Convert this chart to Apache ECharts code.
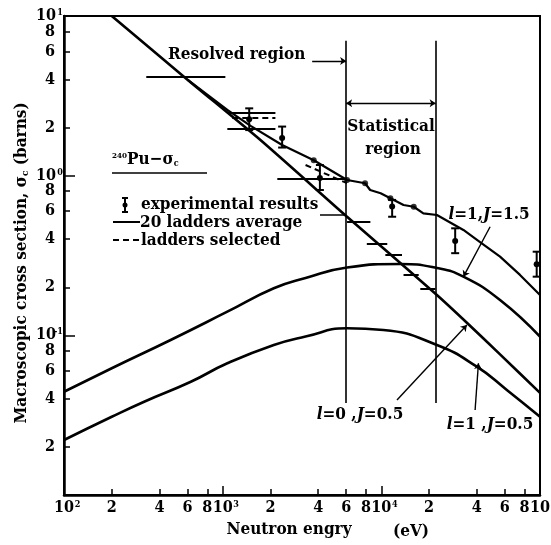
<!DOCTYPE html>
<html>
<head>
<meta charset="utf-8">
<script src="https://cdn.jsdelivr.net/npm/echarts@6/dist/echarts.min.js"></script>
<style>
  html, body { margin: 0; padding: 0; background: #fff; }
  #chart { width: 551px; height: 545px; }
</style>
</head>
<body>
<div id="chart"></div>
<script>
// 240Pu capture cross section vs neutron energy (eV, barns)

// l = 0, J = 0.5 component
const l0E = [200, 600, 1730, 6080, 22400, 34600, 56000, 100000];
const l0Sigma = [10, 3.99, 1.67, 0.553, 0.179, 0.12, 0.076, 0.0436];

// l = 1, J = 1.5 component
const p15E = [100, 200, 470, 1070, 2100, 3330, 6080, 13200, 22400, 32900, 56000, 100000];
const p15Sigma = [0.0443, 0.0622, 0.0935, 0.1406, 0.197, 0.2286, 0.266, 0.28, 0.264, 0.233, 0.1664, 0.098];

// l = 1, J = 0.5 component
const p05E = [100, 200, 320, 630, 1070, 2100, 3330, 6080, 10300, 22400, 40000, 61800, 100000];
const p05Sigma = [0.0221, 0.0309, 0.0384, 0.0512, 0.0668, 0.087, 0.0983, 0.1107, 0.108, 0.087, 0.0636, 0.0455, 0.0309];

// 20 ladders average (total)
const avgE = [600, 1070, 1500, 2370, 3750, 6080, 7900, 8500, 9900, 11400, 13800, 16000, 18400, 22400, 32900, 41900, 56000, 74800, 100000];
const avgSigma = [3.99, 2.58, 2.05, 1.556, 1.25, 0.94, 0.896, 0.813, 0.776, 0.722, 0.655, 0.639, 0.581, 0.567, 0.457, 0.384, 0.311, 0.239, 0.179];
const dotE = [3750, 6080, 7900, 11400, 16000];
const dotSigma = [1.25, 0.94, 0.896, 0.722, 0.639];

// group averages over energy bins
const barFrom = [330, 1070, 1070, 2210, 6080, 8100, 10600, 13800, 17600];
const barTo = [1040, 2150, 2150, 6080, 8530, 10900, 13500, 17200, 21900];
const barSigma = [4.17, 2.46, 1.96, 0.963, 0.515, 0.377, 0.318, 0.239, 0.197];

// ladders selected (dashed)
const selFrom = [1150, 3330];
const selTo = [2150, 6080];
const selFromSigma = [2.29, 1.166];
const selToSigma = [2.29, 0.897];

// experimental results with error bars
const expE = [1470, 2370, 4100, 11700, 29200, 95300];
const expSigma = [2.26, 1.72, 0.967, 0.64, 0.39, 0.279];
const expLow = [1.93, 1.5, 0.813, 0.553, 0.327, 0.233];
const expHigh = [2.64, 2.03, 1.166, 0.705, 0.468, 0.334];

// resolved / statistical region boundaries
const regionE = [6000, 22000];
const regionTop = 7.0;
const regionBottom = 0.0377;

// axis ticks (the top decade label sits on a second axis so it never hides its neighbour)
const xTickValues = [100, 200, 400, 600, 800, 1000, 2000, 4000, 6000, 8000, 10000, 20000, 40000, 60000, 80000, 100000];
const xTickLabels = ['10^2', '2', '4', '6', '8', '10^3', '2', '4', '6', '8', '10^4', '2', '4', '6', '8', '10^5'];
const yTickValues = [0.02, 0.04, 0.06, 0.08, 0.1, 0.2, 0.4, 0.6, 0.8, 1, 2, 4, 6, 8, 10];
const yTickLabels = ['2', '4', '6', '8', '10^-1', '2', '4', '6', '8', '10^0', '2', '4', '6', '8', '10^1'];
const xMajorTicks = [1000, 10000];
const yMajorTicks = [0.1, 1];

const FONT_FAMILY = "'DejaVu Serif Condensed', 'DejaVu Serif', 'Liberation Serif', serif";
const FS = 17;
const FONT = 'bold ' + FS + 'px ' + FONT_FAMILY;
const INK = '#000';

function nearestIndex(values, v) {
  let best = 0, bestD = Infinity;
  values.forEach((t, i) => {
    const d = Math.abs(Math.log10(t) - Math.log10(v));
    if (d < bestD) { bestD = d; best = i; }
  });
  return best;
}

function xLabel(v) {
  const t = xTickLabels[nearestIndex(xTickValues, v)];
  if (t.indexOf('^') >= 0) {
    return '{sp| }{n|10}{e|' + t.split('^')[1] + '}';
  }
  return '{d|' + t + '}';
}

function yLabel(v) {
  const t = yTickLabels[nearestIndex(yTickValues, v)];
  if (t.indexOf('^') >= 0) {
    return '{n|10}{e|' + t.split('^')[1] + '}';
  }
  return '{d|' + t + '}{sp| }';
}

const labelRich = {
  n: { fontFamily: FONT_FAMILY, fontWeight: 'bold', fontSize: 16, color: INK },
  d: { fontFamily: FONT_FAMILY, fontWeight: 'bold', fontSize: 16, color: INK },
  e: { fontFamily: FONT_FAMILY, fontWeight: 'bold', fontSize: 9, color: INK, verticalAlign: 'top', width: 7 },
  sp: { fontSize: 9, width: 7 }
};
const yLabelRich = Object.assign({}, labelRich, { sp: { fontSize: 9, width: 8 } });

const zip = (a, b) => a.map((v, i) => [v, b[i]]);
const blackLine = (w) => ({ color: INK, width: w, opacity: 1 });
const italicRich = {
  i: { fontFamily: FONT_FAMILY, fontStyle: 'italic', fontWeight: 'bold', fontSize: FS, fill: INK },
  t: { fontFamily: FONT_FAMILY, fontWeight: 'bold', fontSize: FS, fill: INK }
};

const chart = echarts.init(document.getElementById('chart'), null, { renderer: 'canvas' });

const xMin = xTickValues[0], xMax = xTickValues[xTickValues.length - 1];
const yMin = 0.01, yMax = yTickValues[yTickValues.length - 1];

const option = {
  backgroundColor: '#fff',
  animation: false,
  grid: {
    left: 64, right: 11, top: 16, bottom: 50,
    containLabel: false, outerBoundsMode: 'none',
    show: true, borderColor: INK, borderWidth: 2, backgroundColor: 'transparent'
  },
  xAxis: [
    {
      type: 'log', logBase: 10, min: xMin, max: xMax,
      axisLine: { show: true, lineStyle: { color: INK, width: 2.5 } },
      axisTick: { show: true, inside: true, length: 6, customValues: xTickValues, lineStyle: { color: INK, width: 1.5 } },
      axisLabel: {
        show: true, customValues: xTickValues.slice(0, -1), formatter: xLabel, rich: labelRich, margin: 5,
        hideOverlap: false
      },
      splitLine: { show: false },
      minorTick: { show: false }
    },
    {
      type: 'log', logBase: 10, min: xMin, max: xMax, position: 'bottom',
      axisLine: { show: false },
      axisTick: { show: true, inside: true, length: 9, customValues: xMajorTicks, lineStyle: { color: INK, width: 1.5 } },
      axisLabel: { show: true, customValues: [xMax], formatter: xLabel, rich: labelRich, margin: 5, showMaxLabel: true },
      splitLine: { show: false }
    }
  ],
  yAxis: [
    {
      type: 'log', logBase: 10, min: yMin, max: yMax,
      axisLine: { show: true, lineStyle: { color: INK, width: 2.5 } },
      axisTick: { show: true, inside: true, length: 6, customValues: yTickValues, lineStyle: { color: INK, width: 1.5 } },
      axisLabel: {
        show: true, customValues: yTickValues.slice(0, -1), formatter: yLabel, rich: yLabelRich, margin: 1,
        hideOverlap: false
      },
      splitLine: { show: false },
      minorTick: { show: false }
    },
    {
      type: 'log', logBase: 10, min: yMin, max: yMax, position: 'left',
      axisLine: { show: false },
      axisTick: { show: true, inside: true, length: 11, customValues: yMajorTicks, lineStyle: { color: INK, width: 1.5 } },
      axisLabel: { show: true, customValues: [yMax], formatter: yLabel, rich: yLabelRich, margin: 1, showMaxLabel: true },
      splitLine: { show: false }
    }
  ],
  series: [
    {
      name: 'l=0, J=0.5', type: 'line', data: zip(l0E, l0Sigma),
      smooth: 0.2, showSymbol: false, symbol: 'none', lineStyle: blackLine(2.6)
    },
    {
      name: 'l=1, J=1.5', type: 'line', data: zip(p15E, p15Sigma),
      smooth: true, showSymbol: false, symbol: 'none', lineStyle: blackLine(2.6)
    },
    {
      name: 'l=1, J=0.5', type: 'line', data: zip(p05E, p05Sigma),
      smooth: true, showSymbol: false, symbol: 'none', lineStyle: blackLine(2.6)
    },
    {
      name: '20 ladders average', type: 'line', data: zip(avgE, avgSigma),
      smooth: false, showSymbol: false, symbol: 'none', lineStyle: blackLine(2.2)
    },
    {
      name: 'ladder points', type: 'scatter', data: zip(dotE, dotSigma),
      symbol: 'circle', symbolSize: 6, itemStyle: { color: INK }
    },
    {
      name: 'group averages', type: 'lines', coordinateSystem: 'cartesian2d',
      data: barFrom.map((f, i) => ({ coords: [[f, barSigma[i]], [barTo[i], barSigma[i]]] })),
      lineStyle: blackLine(2), symbol: 'none'
    },
    {
      name: 'ladders selected', type: 'lines', coordinateSystem: 'cartesian2d',
      data: selFrom.map((f, i) => ({ coords: [[f, selFromSigma[i]], [selTo[i], selToSigma[i]]] })),
      lineStyle: { color: INK, width: 2, opacity: 1, type: [6, 4] }, symbol: 'none'
    },
    {
      name: 'region bounds', type: 'lines', coordinateSystem: 'cartesian2d',
      data: regionE.map(e => ({ coords: [[e, regionTop], [e, regionBottom]] })),
      lineStyle: blackLine(1.6), symbol: 'none'
    },
    {
      name: 'region arrows', type: 'lines', coordinateSystem: 'cartesian2d',
      data: [
        { coords: [[3665, 5.22], [regionE[0], 5.22]], symbol: ['none', 'arrow'] },
        { coords: [[regionE[0], 2.84], [regionE[1], 2.84]], symbol: ['arrow', 'arrow'] }
      ],
      lineStyle: blackLine(1.4), symbolSize: 6
    },
    {
      name: 'leaders', type: 'lines', coordinateSystem: 'cartesian2d',
      data: [
        { coords: [[48480, 0.479], [32930, 0.233]] },
        { coords: [[12550, 0.0394], [34600, 0.116]] },
        { coords: [[38990, 0.0341], [40930, 0.0668]] }
      ],
      symbol: ['none', 'arrow'], symbolSize: 6,
      lineStyle: blackLine(1.4)
    },
    {
      name: 'experimental results', type: 'custom',
      data: expE.map((e, i) => [e, expLow[i], expHigh[i], expSigma[i]]),
      encode: { x: 0, y: [1, 2] },
      renderItem: function (params, api) {
        const e = api.value(0);
        const lo = api.coord([e, api.value(1)]);
        const hi = api.coord([e, api.value(2)]);
        const mid = api.coord([e, api.value(3)]);
        const w = 4;
        const st = { stroke: INK, lineWidth: 2 };
        return {
          type: 'group',
          children: [
            { type: 'line', shape: { x1: lo[0], y1: lo[1], x2: hi[0], y2: hi[1] }, style: st },
            { type: 'line', shape: { x1: lo[0] - w, y1: lo[1], x2: lo[0] + w, y2: lo[1] }, style: st },
            { type: 'line', shape: { x1: hi[0] - w, y1: hi[1], x2: hi[0] + w, y2: hi[1] }, style: st },
            { type: 'circle', shape: { cx: mid[0], cy: mid[1], r: 3 }, style: { fill: INK } }
          ]
        };
      }
    }
  ],
  graphic: [
    // axis titles
    {
      type: 'text', x: 22, y: 263, rotation: Math.PI / 2,
      style: {
        text: '{t|Macroscopic cross section, σ}{s|c}{t| (barns)}',
        align: 'center', verticalAlign: 'middle',
        rich: {
          t: { fontFamily: FONT_FAMILY, fontWeight: 'bold', fontSize: FS, fill: INK },
          s: { fontFamily: FONT_FAMILY, fontWeight: 'bold', fontSize: 10, fill: INK, verticalAlign: 'bottom' }
        }
      }
    },
    { type: 'text', x: 289, y: 530, style: { text: 'Neutron engry', font: FONT, fill: INK, align: 'center', verticalAlign: 'middle' } },
    { type: 'text', x: 411, y: 532, style: { text: '(eV)', font: FONT, fill: INK, align: 'center', verticalAlign: 'middle' } },
    // region labels
    { type: 'text', x: 168, y: 55, style: { text: 'Resolved region', font: FONT, fill: INK, align: 'left', verticalAlign: 'middle' } },
    { type: 'text', x: 391, y: 127, style: { text: 'Statistical', font: FONT, fill: INK, align: 'center', verticalAlign: 'middle' } },
    { type: 'text', x: 393, y: 150, style: { text: 'region', font: FONT, fill: INK, align: 'center', verticalAlign: 'middle' } },
    // curve labels
    { type: 'text', x: 489, y: 215, style: { text: '{i|l}{t|=1,}{i|J}{t|=1.5}', align: 'center', verticalAlign: 'middle', rich: italicRich } },
    { type: 'text', x: 360, y: 415, style: { text: '{i|l}{t|=0 ,}{i|J}{t|=0.5}', align: 'center', verticalAlign: 'middle', rich: italicRich } },
    { type: 'text', x: 490, y: 425, style: { text: '{i|l}{t|=1 ,}{i|J}{t|=0.5}', align: 'center', verticalAlign: 'middle', rich: italicRich } },
    // key
    {
      type: 'text', x: 112, y: 160,
      style: {
        text: '{u|240}{t|Pu−σ}{s|c}', align: 'left', verticalAlign: 'middle',
        rich: {
          u: { fontFamily: FONT_FAMILY, fontWeight: 'bold', fontSize: 8, fill: INK, verticalAlign: 'top' },
          t: { fontFamily: FONT_FAMILY, fontWeight: 'bold', fontSize: FS, fill: INK },
          s: { fontFamily: FONT_FAMILY, fontWeight: 'bold', fontSize: 9, fill: INK, verticalAlign: 'bottom' }
        }
      }
    },
    { type: 'line', shape: { x1: 112, y1: 173, x2: 207, y2: 173 }, style: { stroke: INK, lineWidth: 1.5 } },
    { type: 'line', shape: { x1: 125, y1: 198, x2: 125, y2: 212 }, style: { stroke: INK, lineWidth: 2 } },
    { type: 'line', shape: { x1: 122, y1: 198, x2: 128, y2: 198 }, style: { stroke: INK, lineWidth: 2 } },
    { type: 'line', shape: { x1: 122, y1: 212, x2: 128, y2: 212 }, style: { stroke: INK, lineWidth: 2 } },
    { type: 'circle', shape: { cx: 125, cy: 205, r: 2.5 }, style: { fill: INK } },
    { type: 'text', x: 141, y: 205, style: { text: 'experimental results', font: FONT, fill: INK, align: 'left', verticalAlign: 'middle' } },
    { type: 'line', shape: { x1: 320, y1: 215, x2: 346, y2: 215 }, style: { stroke: INK, lineWidth: 1.5 } },
    { type: 'line', shape: { x1: 113, y1: 222, x2: 140, y2: 222 }, style: { stroke: INK, lineWidth: 2 } },
    { type: 'text', x: 140, y: 223, style: { text: '20 ladders average', font: FONT, fill: INK, align: 'left', verticalAlign: 'middle' } },
    { type: 'line', shape: { x1: 113, y1: 240, x2: 140, y2: 240 }, style: { stroke: INK, lineWidth: 2, lineDash: [6, 4] } },
    { type: 'text', x: 141, y: 241, style: { text: 'ladders selected', font: FONT, fill: INK, align: 'left', verticalAlign: 'middle' } }
  ]
};

chart.setOption(option);
</script>
</body>
</html>
